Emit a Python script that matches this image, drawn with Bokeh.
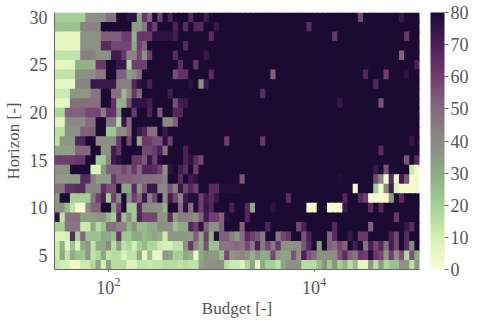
import numpy as np
from bokeh.plotting import figure
from bokeh.models import ColumnDataSource, LinearColorMapper, ColorBar, FixedTicker, LogTickFormatter, Range1d, Span
from bokeh.embed import file_html
from bokeh.resources import INLINE

h30 = [20]*6+[38]*4+[47]*2+[80]*2+[76]*2+[33,62,52,80,60,80,70]+[80]*3+[68,80,80,72]+[80]*6 + [80]*23+[58]+[80]*7+[74]+[80]*3
h29 = [24]*5+[42]*4+[80]*6+[35]*2+[45,72,60]+[80]*3+[70,80,66,80]+[68]*2+[80]*2+[74]+[80]*4 + [80]*13+[66]+[80]*21
h28 = [5]*5+[38]*4+[52]*4+[60]*2+[28,62]+[62]*2+[76]*4+[72]+[80]*6+[66]+[80]*5 + [80]*18+[62]+[80]*13+[62]+[80]*2
h27 = [5]*5+[38]*4+[66]*2+[58]*4+[30,60,52]+[80]*7+[68]+[80]*10 + [80]*35
h26 = [14]*5+[44]*3+[38]*3+[72]*2+[62]+[42]*2+[58,38,60]+[80]*4+[66]+[80]*5+[74]+[80]*6 + [80]*31+[52]+[80]*3
h25 = [6]*4+[28]*4+[62]*2+[80]*2+[74]*2+[18]+[60]*3+[80]*6+[66]+[80]*2+[62]+[80]*8 + [80]*34+[70]
h24 = [14]*4+[38]*4+[45]*2+[80]*2+[52]*2+[34,38,48]+[80]*6+[56]+[64]*2+[80]*4+[66]+[80]*5 + [80]*6+[52]+[80]*17+[68]+[80]*3+[60]+[80]*3+[76]+[80]*2
h23 = [5]*4+[42]*3+[74]*5+[44]*3+[68,76,78,70]+[80]*7+[76,80,38,72]+[80]*6 + [80]*26+[68]+[80]*8
h22 = [12]*3+[36]*4+[46]*2+[80]*2+[48]*2+[26,40,62,50]+[80]*5+[72]+[80]*13 + [80]*4+[66]+[80]*30
h21 = [5]*3+[48]*6+[80]*2+[64]+[28]*2+[56]+[76]*3+[72]+[80]*4+[56,72,74]+[80]*10 + [80]*19+[74]+[80]*7+[55]+[80]*7
h20 = [18]*2+[52]*4+[58]*3+[44]+[64]*2+[36]+[80]*2+[62]+[80]*2+[70,80,54]+[80]*2+[68]*2+[80]*11 + [80]*35
h19 = [6]*2+[40]*4+[48]*2+[80]*2+[46]*2+[16,74,50]+[80]*6+[40]*2+[52]+[80]*12 + [80]*35
h18 = [15]*2+[38]*3+[52]*3+[80]*2+[22]*2+[40]*2+[50,80,74,68]+[48]*2+[80,74]+[80]*14 + [80]*35
h17 = [14]+[36]*3+[68]*2+[80]*2+[38]*4+[62,80,58,80,32]+[62]*2+[56]*2+[76,60]+[80]*10+[60]+[80]*2 + [80]*4+[62]+[80]*28+[74,80]
h16 = [33]*4+[50]*3+[80]*2+[38]*2+[72,62]+[80]*4+[58]*2+[62,70,48]+[80]*3+[70]+[80]*10 + [80]*27+[66]+[80]*7
h15 = [60]*4+[62]*2+[80]*2+[22]*2+[42,72,76]+[80]*2+[62]*2+[54,74,60,78]+[80]*4+[70,76,66,58]+[80]*7 + [80]*32+[55,80,66]
h14 = [38]*3+[80]*4+[8]*2+[36]+[52]*3+[58,52,62,50]+[68]*2+[66,60,38,76,80,72,66,80,60]+[80]*8 + [80]*26+[74,80,55]+[80]*4+[12,2]
h13 = [35]*5+[66]*2+[44]+[34]*3+[62]+[52]*3+[50]*2+[48]*4+[44]+[80]*2+[66,80,72,76]+[80]*8 + [55]+[80]*18+[78]+[80]*6+[57,40,2,66,3,72,55,2,2]
h12 = [48]*2+[64]*2+[66]*2+[42]*3+[64]+[56]*2+[80]+[32]*2+[66,36,54]+[74]*2+[42]*2+[56,44,74,58,68,60]+[80]*2+[66]*2+[78]*4 + [80]*22+[2]+[80]*3+[20,3,40,72,8,2,2,2,2]
h11 = [36]+[80]*2+[20]*4+[45,60,70,20,60,42,80,40,60,50,74,44,58,80,40,72,58,42,72]+[78]*2+[60,72,66,74]+[80]*4 + [80]*9+[66]+[80]*10+[68]+[80]*2+[66,60]+[2]*4+[35,80,66]+[80]*3
h10 = [38]*2+[25,14,2,2,40]+[52]*2+[80]*2+[36,58,80]+[22]*2+[68]+[40]*2+[38]*2+[28]+[80]*2+[50,76,48,78,60,74,68]+[80]*3+[70,80] + [80,68,30]+[80]*3+[76]+[80]*6+[2,4]+[80]*2+[2]*3+[74]+[80]*4+[66,80,68]+[80]*7
h9 = [76,14]+[48]*3+[34]*3+[38]*2+[26,20,66,24,38,22,68]+[58]*3+[36]*2+[66,34]+[44]*3+[38,52,72]+[60]*2+[52,78,80,80] + [80,68]+[80]*28+[62]+[80]*4
h8 = [20]*2+[46]*3+[12]*2+[30,16,24]+[48]*2+[42]*2+[28,38]+[26]*2+[30]*2+[38]*3+[24]+[30]*2+[68,60,76,52]+[38]*2+[52]+[80]*3 + [52]+[80]*4+[68]+[80]*5+[58,70]+[80]*5+[68]+[80]*6+[52]+[80]*6+[74,66,80]
h7 = [8,8,10,66,20,50,24,24,24,30,30,25,62,22,22,30,30,25,28,32,28,12,36,36,36,36,34,52,32,60,28,78,52,52,44,36, 48,66,60,55,45,80,80,45,58,62,80,80,55,70,80,80,80,50,66,80,80,74,80,62,62,80,80,80,80,70,58,80,66,80,80]
h6 = [12,28,6,24,8,30,36,14,30,30,40,16,34,14,18,10,20,26,18,18,12,10,10,14,14,38,62,42,30,56,24,24,46,46,48,50, 46,58,46,70,45,58,46,62,38,38,38,38,55,68,80,38,80,52,48,58,52,80,72,80,48,70,58,68,48,72,58,80,66,42,80]
h5 = [12,30,14,30,24,22,36,14,18,32,14,16,16,8,14,14,30,4,24,5,5,36,32,20,20,30,28,3,30,38,36,36,25,58,36,38, 42,38,28,38,30,30,58,35,32,32,55,38,70,55,50,38,38,38,38,55,66,52,46,62,60,78,62,58,36,60,38,55,18,55,30]
h4 = [14,10,10,3,3,12,12,18,32,10,32,16,16,16,8,8,14,14,12,14,14,16,16,16,14,16,14,14,32,36,38,38,38,16,12,12, 8,18,32,6,30,20,20,15,32,38,38,38,16,16,16,25,38,22,38,20,28,15,25,6,6,36,16,36,18,24,24,38,38,15,35]

rows = [h30,h29,h28,h27,h26,h25,h24,h23,h22,h21,h20,h19,h18,h17,h16,h15,h14,h13,h12,h11,h10,h9,h8,h7,h6,h5,h4]
horizons = list(range(30, 3, -1))
for hz, r in zip(horizons, rows):
    assert len(r) == 71, (hz, len(r))

budget_exp = [1.5 + 0.05*i for i in range(71)]
half = 0.025

anchors = [0, 10, 20, 30, 40, 50, 60, 70, 80]
anchor_colors = ["#fdfdd5", "#d3f0b5", "#a4cf96", "#8faa86", "#8b8b83", "#85697f", "#703e6f", "#4b2157", "#1b0b33"]
rgb = np.array([[int(c[i:i+2], 16) for i in (1, 3, 5)] for c in anchor_colors], float)
xs = np.linspace(0, 80, 256)
palette = ["#%02x%02x%02x" % tuple(int(round(np.interp(v, anchors, rgb[:, k]))) for k in range(3)) for v in xs]
mapper = LinearColorMapper(palette=palette, low=0, high=80)

# Cells overlap their right and lower neighbours a little, to hide seams between the rectangles.
left, right, bottom, top, val = [], [], [], [], []
for hz, r in zip(horizons, rows):
    for e, v in zip(budget_exp, r):
        left.append(10**(e-half)); right.append(10**(e+half+0.012))
        bottom.append(hz-0.5-0.15); top.append(hz+0.5); val.append(v)
src = ColumnDataSource(dict(left=left, right=right, bottom=bottom, top=top, val=val))

TXT = "#555555"
FONT = "Liberation Serif"
p = figure(width=480, height=320, output_backend="svg", toolbar_location=None,
           x_axis_type="log", x_range=Range1d(10**1.475, 10**5.025), y_range=Range1d(3.5, 30.5),
           x_axis_label="Budget [-]", y_axis_label="Horizon [-]",
           min_border_left=54, min_border_top=12, min_border_bottom=51, min_border_right=61)
p.quad(left="left", right="right", bottom="bottom", top="top", source=src,
       fill_color={"field": "val", "transform": mapper}, line_color=None)
p.grid.visible = False
p.outline_line_color = None

p.xaxis.ticker = FixedTicker(ticks=[100, 10000])
p.xaxis.formatter = LogTickFormatter()
p.yaxis.ticker = FixedTicker(ticks=[5, 10, 15, 20, 25, 30])
for ax in (p.xaxis[0], p.yaxis[0]):
    ax.axis_line_color = "#666666"
    ax.major_tick_line_color = "#666666"
    ax.major_tick_in = 0
    ax.major_tick_out = 2
    ax.minor_tick_line_color = None
    ax.major_label_text_font = FONT
    ax.major_label_text_font_size = "18px"
    ax.major_label_text_color = TXT
    ax.axis_label_text_font = FONT
    ax.axis_label_text_font_size = "17px"
    ax.axis_label_text_font_style = "normal"
    ax.axis_label_text_color = TXT
p.yaxis[0].major_tick_out = 0
p.yaxis[0].major_label_standoff = 7
p.xaxis[0].major_label_standoff = 5
p.xaxis[0].axis_label_standoff = 2
p.yaxis[0].axis_label_standoff = 4

cb = ColorBar(color_mapper=mapper, width=14, height=257, padding=0, margin=0, location=(376, 0),
              ticker=FixedTicker(ticks=[0,10,20,30,40,50,60,70,80]),
              major_label_text_font=FONT, major_label_text_font_size="18px", major_label_text_color=TXT,
              major_tick_in=0, major_tick_out=4, major_tick_line_color="#666666",
              bar_line_color=None, label_standoff=2, background_fill_color=None)
p.add_layout(cb)
p.add_layout(Span(location=444, location_units="canvas", dimension="height", line_color="#666666", line_width=1.2))

open("out.html", "w").write(file_html(p, INLINE))
